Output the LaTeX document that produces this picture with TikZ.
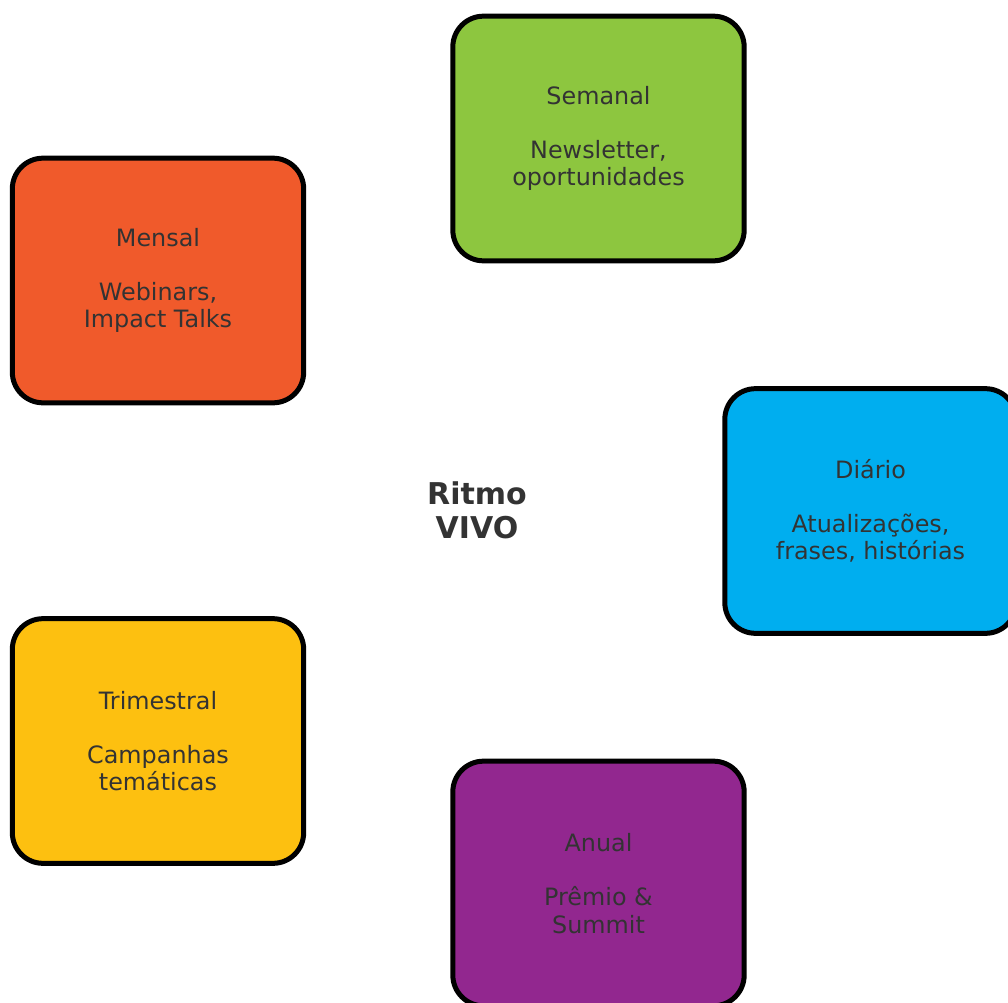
\documentclass[tikz,border=0pt]{standalone}
\usepackage{fontspec}
\setmainfont{DejaVu Sans}
\usepackage{tikz}
\usetikzlibrary{shapes.geometric,calc}
\definecolor{txtgray}{HTML}{333333}
\definecolor{semgreen}{HTML}{8DC63F}
\definecolor{mensorange}{HTML}{F05A2B}
\definecolor{diablue}{HTML}{00AEEF}
\definecolor{triyellow}{HTML}{FDC010}
\definecolor{anupurple}{HTML}{92278F}
\tikzstyle{period} = [rectangle, rounded corners=23pt, minimum width=218.5pt, minimum height=183.5pt, text centered, align=center, draw=black, line width=3.75pt, text=txtgray, font=\fontsize{17.9pt}{20.3pt}\selectfont]
\tikzstyle{hub} = [text=txtgray, align=center, font=\bfseries\fontsize{22.5pt}{25.5pt}\selectfont]

\begin{document}
\begin{tikzpicture}[x=0.75pt, y=-0.75pt]
    \useasboundingbox (0,0) rectangle (1008,1003);

    \node (ritmo) [hub] at (477,510) {Ritmo\\VIVO};

    \node (semanal) [period, fill=semgreen] at (598.5,138.5) {Semanal\\[20.3pt]Newsletter,\\oportunidades};

    \node (mensal) [period, fill=mensorange] at (158,280.5) {Mensal\\[20.3pt]Webinars,\\Impact Talks};

    \node (diario) [period, fill=diablue] at (870.5,511) {Diário\\[20.3pt]Atualizações,\\frases, histórias};

    \node (trimestral) [period, fill=triyellow] at (158,741) {Trimestral\\[20.3pt]Campanhas\\temáticas};

    \node (anual) [period, fill=anupurple] at (598.5,883.5) {Anual\\[20.3pt]Prêmio \&\\Summit};

\end{tikzpicture}
\end{document}
